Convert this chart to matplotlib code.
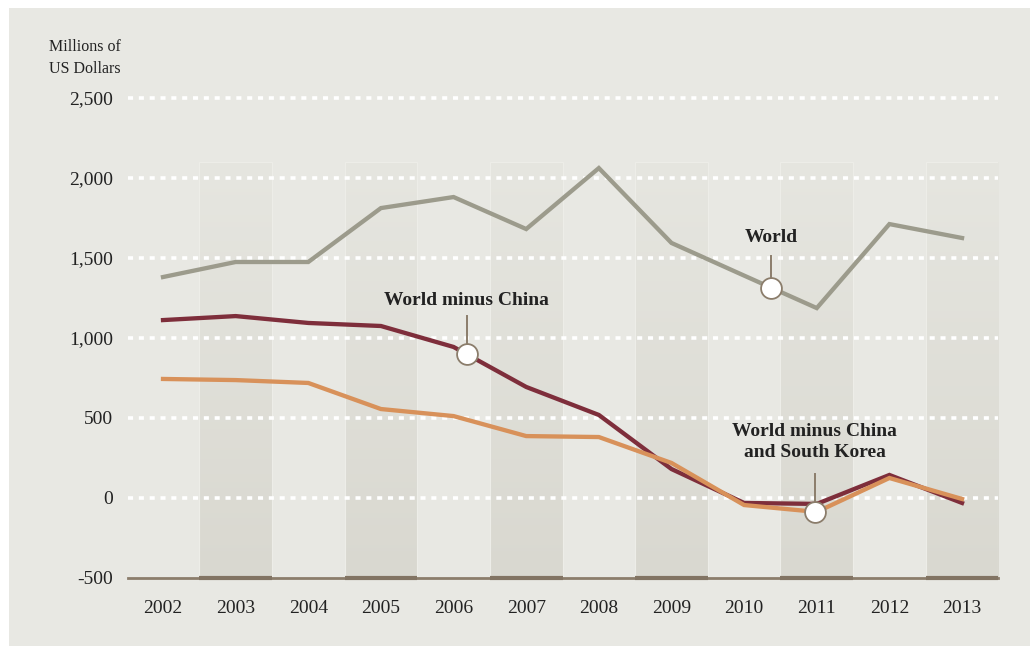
import numpy as np
import matplotlib
matplotlib.use("Agg")
import matplotlib.pyplot as plt
from matplotlib.patches import Rectangle
from matplotlib.colors import LinearSegmentedColormap

years = [2002, 2003, 2004, 2005, 2006, 2007, 2008, 2009, 2010, 2011, 2012, 2013]
world = [1381, 1475, 1475, 1812, 1881, 1681, 2062, 1594, 1390, 1187, 1712, 1625]
world_minus_china = [1112, 1137, 1094, 1075, 944, 694, 519, 181, -31, -37, 144, -31]
world_minus_china_sk = [744, 737, 719, 556, 512, 387, 381, 219, -44, -87, 125, -6]
y_ticks = [-500, 0, 500, 1000, 1500, 2000, 2500]
y_tick_labels = ["-500", "0", "500", "1,000", "1,500", "2,000", "2,500"]
shaded_years = [2003, 2005, 2007, 2009, 2011, 2013]

BG = "#E8E8E3"
SERIF = ["Liberation Serif", "DejaVu Serif"]
plt.rcParams["font.family"] = SERIF

W, H = 1030, 647
fig = plt.figure(figsize=(W / 100, H / 100), dpi=100)
fig.patch.set_facecolor("white")
fig.patches.append(Rectangle((9 / W, 1 / H), 1 - 9 / W, (H - 9) / H,
                             transform=fig.transFigure, facecolor=BG,
                             edgecolor="none", zorder=-10))

ax = fig.add_axes([128 / W, (H - 578) / H, (998 - 128) / W, (578 - 98) / H])
ax.set_facecolor("none")
ax.set_xlim(2001.518, 2013.495)
ax.set_ylim(-500, 2500)

# shaded gradient columns
cmap = LinearSegmentedColormap.from_list("col", ["#D9D8D0", "#E6E6E0"])
grad = np.linspace(0, 1, 256).reshape(-1, 1)
for yr in shaded_years:
    ax.imshow(grad, extent=[yr - 0.5, yr + 0.5, -500, 2100], origin="lower",
              cmap=cmap, aspect="auto", zorder=0.5, interpolation="bilinear")
    ax.add_patch(Rectangle((yr - 0.5, -500), 1.0, 2600, facecolor="none",
                           edgecolor="#EDEDE8", lw=0.8, zorder=0.6))
ax.set_aspect("auto")

# dotted white gridlines
for v in y_ticks[1:]:
    ax.axhline(v, color="white", lw=2.6, ls=(0, (1.4, 1.6)), zorder=1, clip_on=False)

# baseline
ax.axhline(-500, color="#8B7D6B", lw=2.0, zorder=2, clip_on=False)
for yr in shaded_years:
    ax.plot([yr - 0.5, yr + 0.5], [-500, -500], color="#827463", lw=3.0,
            solid_capstyle="butt", zorder=2.1, clip_on=False)

# data lines
LW = 3.1
ax.plot(years, world, color="#9C9B8C", lw=LW, zorder=3, solid_joinstyle="miter")
ax.plot(years, world_minus_china, color="#7E2E3B", lw=LW, zorder=3.1, solid_joinstyle="miter")
ax.plot(years, world_minus_china_sk, color="#D8915A", lw=LW, zorder=3.2, solid_joinstyle="miter")

# annotations
edge = "#8B7D6B"
def annotate(xm, series, text, ytext, ytop):
    ym = float(np.interp(xm, years, series))
    ax.plot([xm, xm], [ym, ytop], color=edge, lw=1.4, zorder=4)
    ax.plot([xm], [ym], marker="o", ms=15, mfc="white", mec=edge, mew=1.3, zorder=5)
    ax.text(xm, ytext, text, ha="center", va="center", fontsize=14,
            fontweight="bold", color="#222222", zorder=6, linespacing=1.35)

annotate(2010.37, world, "World", 1630, 1515)
annotate(2006.18, world_minus_china, "World minus China", 1235, 1135)
annotate(2010.97, world_minus_china_sk, "World minus China\nand South Korea", 350, 150)

# ticks
ax.set_yticks(y_ticks)
ax.set_yticklabels(y_tick_labels)
ax.set_xticks(years)
ax.set_xticklabels([str(y) for y in years])
ax.tick_params(axis="both", length=0, labelsize=14, colors="#222222")
ax.tick_params(axis="y", pad=11)
ax.tick_params(axis="x", pad=16)
for s in ax.spines.values():
    s.set_visible(False)

fig.text(49 / W, 1 - 58 / H, "Millions of\nUS Dollars", ha="left", va="center",
         fontsize=11.5, color="#222222", linespacing=1.45)

fig.savefig("out.png", dpi=100, facecolor=fig.get_facecolor())
